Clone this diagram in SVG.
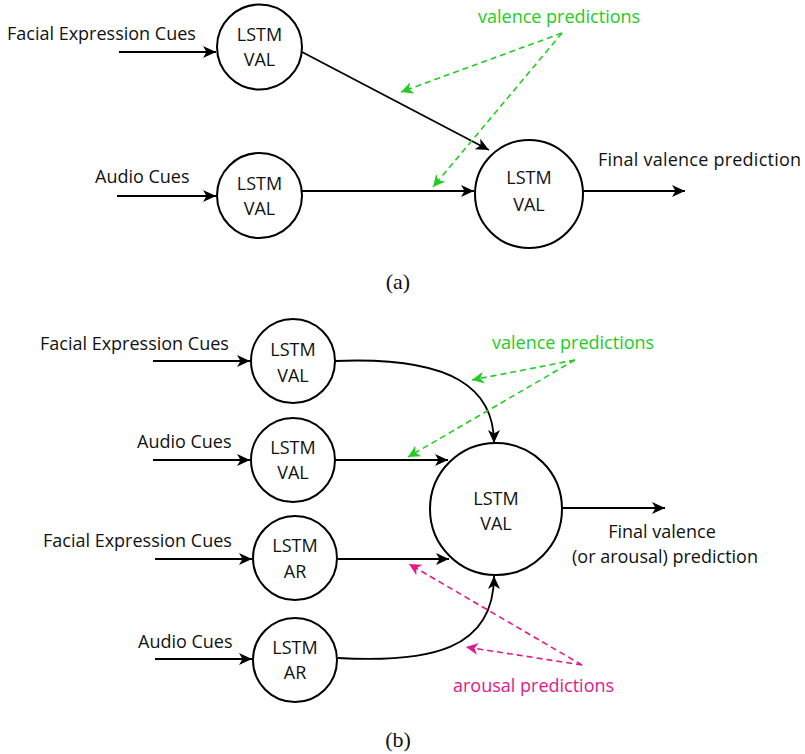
<svg xmlns="http://www.w3.org/2000/svg" width="805" height="754" viewBox="0 0 805 754">
<style>
.node circle{fill:#fff;stroke:#000;stroke-width:2}
text{font-family:"Open Sans","Noto Sans",sans-serif;font-size:18px;fill:#111}
.c{text-anchor:middle}
.g{fill:#22cc22}
.p{fill:#e5178a}
.cap{font-family:"Liberation Serif","Times New Roman",serif;font-size:22px;text-anchor:middle}
.k{fill:none;stroke:#000;stroke-width:1.8;marker-end:url(#ab)}
.gd{fill:none;stroke:#22cc22;stroke-width:1.6;stroke-dasharray:6 4;marker-end:url(#ag)}
.pd{fill:none;stroke:#e5178a;stroke-width:1.6;stroke-dasharray:6 4;marker-end:url(#ap)}
</style>
<defs>
<marker id="ab" markerUnits="userSpaceOnUse" markerWidth="14" markerHeight="14" refX="13" refY="6" orient="auto"><path d="M0,0 L13,6 L0,12 L3.5,6 z" fill="#000"/></marker>
<marker id="ag" markerUnits="userSpaceOnUse" markerWidth="14" markerHeight="14" refX="12" refY="6" orient="auto"><path d="M0,0 L12,6 L0,12 L3.5,6 z" fill="#22cc22"/></marker>
<marker id="ap" markerUnits="userSpaceOnUse" markerWidth="14" markerHeight="14" refX="12" refY="6" orient="auto"><path d="M0,0 L12,6 L0,12 L3.5,6 z" fill="#e5178a"/></marker>
</defs>

<!-- (a) -->
<g id="a-labels">
<text x="7" y="40">Facial Expression Cues</text>
<text x="95" y="183">Audio Cues</text>
<text x="598" y="166" textLength="203">Final valence prediction</text>
<text class="g" x="478" y="23">valence predictions</text>
<text class="cap" x="398" y="289">(a)</text>
</g>
<g id="connectors-a">
<line class="k" x1="119" y1="52" x2="216" y2="52"/>
<line class="k" x1="117" y1="196" x2="216" y2="196"/>
<line class="k" x1="302" y1="52" x2="489" y2="150"/>
<line class="k" x1="302" y1="191" x2="474" y2="191"/>
<line class="k" x1="583" y1="191" x2="685" y2="191"/>
<line class="gd" x1="562" y1="33" x2="401" y2="92"/>
<line class="gd" x1="562" y1="33" x2="433" y2="187"/>
</g>
<g id="a-fer" class="node"><circle cx="259.5" cy="47" r="42.5"/><text class="c" x="259.5" y="41">LSTM</text><text class="c" x="259.5" y="66">VAL</text></g>
<g id="a-aud" class="node"><circle cx="259.5" cy="195.5" r="42.5"/><text class="c" x="259.5" y="190">LSTM</text><text class="c" x="259.5" y="215">VAL</text></g>
<g id="a-fus" class="node"><circle cx="529" cy="194" r="54"/><text class="c" x="529" y="184">LSTM</text><text class="c" x="529" y="211">VAL</text></g>

<!-- (b) -->
<g id="b-labels">
<text x="40" y="350">Facial Expression Cues</text>
<text x="137" y="448">Audio Cues</text>
<text x="43" y="547">Facial Expression Cues</text>
<text x="138" y="648">Audio Cues</text>
<text class="c" x="662" y="538">Final valence</text>
<text class="c" x="665" y="563">(or arousal) prediction</text>
<text class="g" x="492" y="349">valence predictions</text>
<text class="p" x="453" y="692">arousal predictions</text>
<text class="cap" x="398" y="747">(b)</text>
</g>
<g id="connectors-b">
<line class="k" x1="153" y1="361" x2="250" y2="361"/>
<line class="k" x1="153" y1="460" x2="250" y2="460"/>
<line class="k" x1="155" y1="559" x2="252" y2="559"/>
<line class="k" x1="155" y1="659" x2="252" y2="659"/>
<path class="k" d="M335,361 C455,356 494,390 494,443"/>
<line class="k" x1="335" y1="460" x2="448" y2="460"/>
<line class="k" x1="338" y1="559" x2="449" y2="559"/>
<path class="k" d="M338,658 C430,663 494,650 494,576"/>
<line class="k" x1="562" y1="508" x2="665" y2="508"/>
<line class="gd" x1="575" y1="360" x2="472" y2="380"/>
<line class="gd" x1="575" y1="360" x2="408" y2="457"/>
<line class="pd" x1="582" y1="665" x2="409" y2="564"/>
<line class="pd" x1="582" y1="665" x2="466" y2="647"/>
</g>
<g id="b-fer-val" class="node"><circle cx="293" cy="361" r="42"/><text class="c" x="293" y="356">LSTM</text><text class="c" x="293" y="382">VAL</text></g>
<g id="b-aud-val" class="node"><circle cx="293" cy="460" r="42"/><text class="c" x="293" y="454">LSTM</text><text class="c" x="293" y="479">VAL</text></g>
<g id="b-fer-ar" class="node"><circle cx="295" cy="558" r="42"/><text class="c" x="295" y="552">LSTM</text><text class="c" x="295" y="578">AR</text></g>
<g id="b-aud-ar" class="node"><circle cx="295" cy="660" r="42"/><text class="c" x="295" y="654">LSTM</text><text class="c" x="295" y="679">AR</text></g>
<g id="b-fus" class="node"><circle cx="496" cy="509" r="66"/><text class="c" x="496" y="505">LSTM</text><text class="c" x="496" y="530">VAL</text></g>
</svg>
